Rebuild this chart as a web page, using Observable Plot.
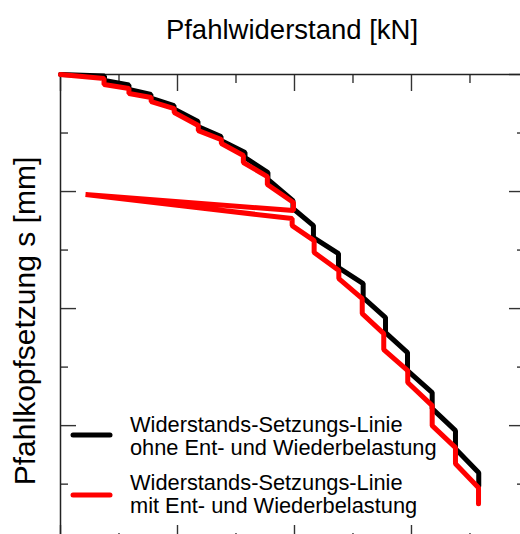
<!DOCTYPE html>
<html><head><meta charset="utf-8">
<script src="https://cdn.jsdelivr.net/npm/d3@7"></script>
<script src="https://cdn.jsdelivr.net/npm/@observablehq/plot@0.6"></script>
<style>
html,body{margin:0;padding:0;background:#fff;overflow:hidden;}
#chart{position:relative;width:520px;height:534px;overflow:hidden;}
#chart svg{max-width:none !important;}
</style></head><body><div id="chart"></div>
<script>
const title = "Pfahlwiderstand [kN]";
const yLabel = "Pfahlkopfsetzung s [mm]";
const seriesLines = [
  ["Widerstands-Setzungs-Linie", "ohne Ent- und Wiederbelastung"],
  ["Widerstands-Setzungs-Linie", "mit Ent- und Wiederbelastung"]
];
const seriesColors = ["#000000", "#ff0000"];

// Pfahlwiderstand R [kN] and Setzung s [mm]
const blackR = [0, 376, 376, 585, 585, 773, 773, 970, 970, 1175, 1175, 1372, 1372, 1577, 1577, 1773, 1773, 1987, 1987, 2162, 2162, 2376, 2376, 2587, 2587, 2778, 2778, 2966, 2966, 3177, 3177, 3376, 3376, 3575, 3575];
const blackS = [0, 0.13, 0.51, 0.90, 1.28, 1.71, 2.01, 2.65, 2.95, 4.02, 4.44, 5.30, 5.64, 6.67, 7.09, 8.38, 8.97, 10.77, 11.45, 12.91, 13.93, 15.30, 16.50, 17.86, 19.06, 20.77, 22.05, 23.76, 25.30, 27.18, 28.55, 30.43, 31.97, 34.02, 35.13];

const redR = [0, 372, 372, 585, 585, 775, 775, 972, 972, 1178, 1178, 1375, 1375, 1563, 1563, 1768, 1768, 1991, 1991, 214, 1980, 1980, 2168, 2168, 2379, 2379, 2579, 2579, 2763, 2763, 2968, 2968, 3177, 3177, 3376, 3376, 3573, 3573];
const redS = [0, 0.34, 0.85, 1.20, 1.62, 1.97, 2.31, 2.91, 3.25, 4.36, 4.79, 5.56, 5.90, 6.92, 7.52, 8.72, 9.40, 10.94, 11.62, 10.26, 12.31, 12.91, 14.19, 15.21, 16.75, 17.44, 19.15, 20.43, 22.14, 23.50, 25.30, 26.32, 28.29, 30.00, 31.88, 33.25, 35.30, 36.67];

const xMajor = [0, 1000, 2000, 3000];
const xMinor = [500, 1500, 2500, 3500];
const yMajor = [0, 10, 20, 30];
const yMinor = [5, 15, 25, 35];

const black = blackR.map((r, i) => ({R: r, s: blackS[i]}));
const red = redR.map((r, i) => ({R: r, s: redS[i]}));

const font = "'Liberation Sans', Arial, sans-serif";
const tickStyle = {stroke: "#333", strokeWidth: 1.4, tickFormat: () => "", label: null};

const plot = Plot.plot({
  width: 524, height: 541,
  marginLeft: 60, marginRight: 0, marginTop: 74, marginBottom: 0,
  style: {maxWidth: "none", fontFamily: font, background: "white"},
  x: {domain: [0, 3966], axis: null},
  y: {domain: [0, 39.9], reverse: true, axis: null},
  marks: [
    Plot.axisX(xMajor, {anchor: "top", tickSize: 16, dy: 16, ...tickStyle}),
    Plot.axisX(xMinor, {anchor: "top", tickSize: 8, dy: 8, ...tickStyle}),
    Plot.axisX(xMajor, {anchor: "bottom", tickSize: 16, dy: -16, ...tickStyle}),
    Plot.axisX(xMinor, {anchor: "bottom", tickSize: 8, dy: -8, ...tickStyle}),
    Plot.axisY(yMajor, {anchor: "left", tickSize: 16, dx: 16, ...tickStyle}),
    Plot.axisY(yMinor, {anchor: "left", tickSize: 8, dx: 8, ...tickStyle}),
    Plot.axisY(yMajor, {anchor: "right", tickSize: 16, dx: -16, ...tickStyle}),
    Plot.axisY(yMinor, {anchor: "right", tickSize: 8, dx: -8, ...tickStyle}),
    Plot.frame({stroke: "#222", strokeWidth: 1.5}),
    Plot.line(black, {x: "R", y: "s", stroke: seriesColors[0], strokeWidth: 5, strokeLinejoin: "miter", strokeLinecap: "round"}),
    Plot.line(red, {x: "R", y: "s", stroke: seriesColors[1], strokeWidth: 5, strokeLinejoin: "miter", strokeLinecap: "round"})
  ]
});

const svg = d3.select(plot);
svg.append("text")
  .attr("x", 292).attr("y", 39)
  .attr("text-anchor", "middle")
  .attr("font-family", font).attr("font-size", 27.5).attr("fill", "#000")
  .text(title);
svg.append("text")
  .attr("transform", "translate(35,321) rotate(-90)")
  .attr("text-anchor", "middle")
  .attr("font-family", font).attr("font-size", 30).attr("fill", "#000")
  .text(yLabel);

const legendY = [435, 495];
const textY = [[432, 455], [490, 513]];
seriesLines.forEach((lines, k) => {
  svg.append("line")
    .attr("x1", 73).attr("x2", 110)
    .attr("y1", legendY[k]).attr("y2", legendY[k])
    .attr("stroke", seriesColors[k]).attr("stroke-width", 5).attr("stroke-linecap", "round");
  lines.forEach((t, j) => {
    svg.append("text")
      .attr("x", 130).attr("y", textY[k][j])
      .attr("text-anchor", "start")
      .attr("font-family", font).attr("font-size", 21.8).attr("fill", "#000")
      .text(t);
  });
});

document.getElementById("chart").appendChild(plot);
</script>
</body></html>
